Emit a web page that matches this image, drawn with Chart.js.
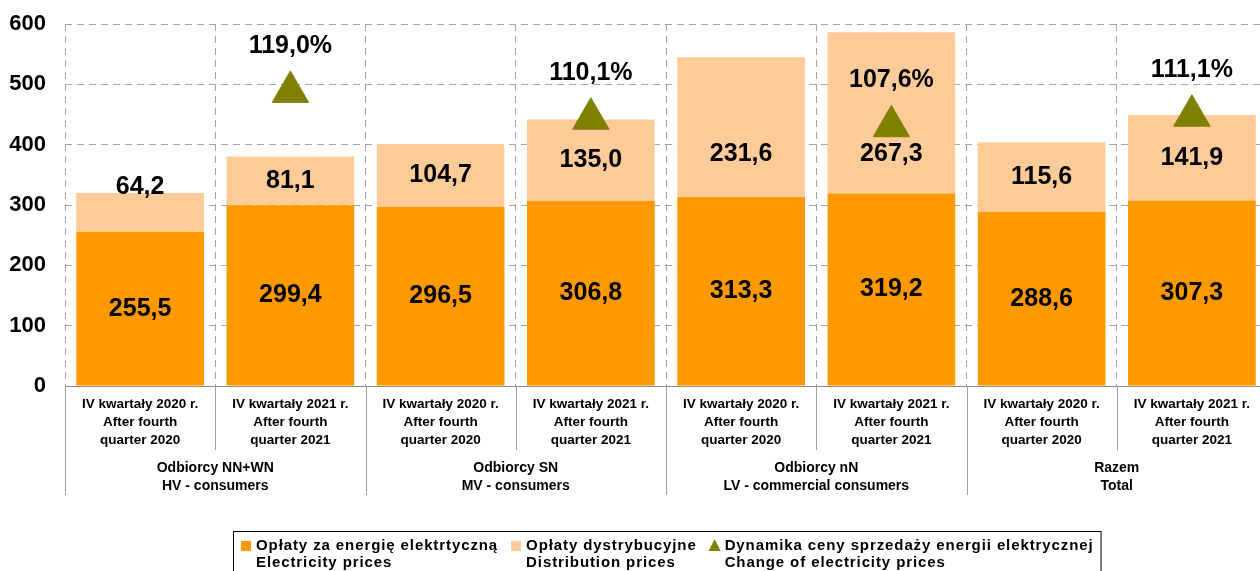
<!DOCTYPE html>
<html>
<head>
<meta charset="utf-8">
<script src="https://cdn.jsdelivr.net/npm/chart.js@4"></script>
<style>
  html, body { margin: 0; padding: 0; background: #fff; }
  #clip { width: 1260px; height: 571px; overflow: hidden; position: relative; }
  /* plot area runs a few px past the right edge, like the original */
  #wrap { width: 1267px; height: 571px; position: absolute; left: 0; top: 0; }
</style>
</head>
<body>
<div id="clip"><div id="wrap"><canvas id="chart"></canvas></div></div>
<script>
const categories = [
  ['IV kwartały 2020 r.', 'After fourth', 'quarter 2020'],
  ['IV kwartały 2021 r.', 'After fourth', 'quarter 2021'],
  ['IV kwartały 2020 r.', 'After fourth', 'quarter 2020'],
  ['IV kwartały 2021 r.', 'After fourth', 'quarter 2021'],
  ['IV kwartały 2020 r.', 'After fourth', 'quarter 2020'],
  ['IV kwartały 2021 r.', 'After fourth', 'quarter 2021'],
  ['IV kwartały 2020 r.', 'After fourth', 'quarter 2020'],
  ['IV kwartały 2021 r.', 'After fourth', 'quarter 2021']
];
const groups = [
  ['Odbiorcy NN+WN', 'HV - consumers'],
  ['Odbiorcy SN', 'MV - consumers'],
  ['Odbiorcy nN', 'LV - commercial consumers'],
  ['Razem', 'Total']
];
const energy       = [255.5, 299.4, 296.5, 306.8, 313.3, 319.2, 288.6, 307.3];
const distribution = [64.2, 81.1, 104.7, 135.0, 231.6, 267.3, 115.6, 141.9];
const dynamics     = [null, 119.0, null, 110.1, null, 107.6, null, 111.1];
const yTicks = [0, 100, 200, 300, 400, 500, 600];
const seriesNames = [
  ['Opłaty za energię elektrtyczną', 'Electricity prices'],
  ['Opłaty dystrybucyjne', 'Distribution prices'],
  ['Dynamika ceny sprzedaży energii elektrycznej', 'Change of electricity prices']
];

const FONT = '"Liberation Sans", Arial, sans-serif';
const ORANGE = '#FF9900', PEACH = '#FFCC99', OLIVE = '#808000';
const fmt = v => v.toFixed(1).replace('.', ',');

Chart.defaults.font.family = FONT;

// numbers on the bars and the % above the triangles
const barLabels = {
  id: 'barLabels',
  afterDatasetsDraw(chart) {
    const ctx = chart.ctx, y = chart.scales.y;
    ctx.save();
    ctx.font = 'bold 25px ' + FONT;
    ctx.fillStyle = '#000';
    ctx.textAlign = 'center';
    ctx.textBaseline = 'middle';
    chart.getDatasetMeta(0).data.forEach((bar, i) => {
      ctx.fillText(fmt(energy[i]), bar.x, (bar.y + bar.base) / 2);
    });
    chart.getDatasetMeta(1).data.forEach((bar, i) => {
      // original keeps these labels in a band between ~330 and ~385
      const mid = energy[i] + distribution[i] / 2;
      const v = Math.min(Math.max(mid, 330), 385);
      ctx.fillText(fmt(distribution[i]), bar.x, y.getPixelForValue(v));
    });
    chart.getDatasetMeta(2).data.forEach((pt, i) => {
      if (dynamics[i] == null) return;
      ctx.fillText(fmt(dynamics[i]) + '%', pt.x, pt.y - 46);
    });
    ctx.restore();
  }
};

// separators + group names under the axis, and the boxed legend
const axisDecor = {
  id: 'axisDecor',
  afterDraw(chart) {
    const ctx = chart.ctx, x = chart.scales.x;
    const base = chart.chartArea.bottom;
    const step = x.getPixelForValue(1) - x.getPixelForValue(0);
    ctx.save();
    ctx.strokeStyle = '#a0a0a0';
    ctx.lineWidth = 1;
    for (let i = 0; i < categories.length; i++) {
      const bx = Math.round(x.getPixelForValue(i) - step / 2) + 0.5;
      ctx.beginPath();
      ctx.moveTo(bx, base);
      ctx.lineTo(bx, i % 2 === 0 ? 495 : 450);
      ctx.stroke();
    }
    ctx.fillStyle = '#000';
    ctx.font = 'bold 14px ' + FONT;
    ctx.textAlign = 'center';
    ctx.textBaseline = 'middle';
    groups.forEach((g, k) => {
      const cx = (x.getPixelForValue(2 * k) + x.getPixelForValue(2 * k + 1)) / 2;
      ctx.fillText(g[0], cx, 468);
      ctx.fillText(g[1], cx, 486);
    });

    // legend
    ctx.textAlign = 'left';
    ctx.font = 'bold 15px ' + FONT;
    ctx.letterSpacing = '0.9px';
    let lx = 241;
    const colors = [ORANGE, PEACH, OLIVE];
    seriesNames.forEach((names, i) => {
      if (i < 2) {
        ctx.fillStyle = colors[i];
        ctx.fillRect(lx, 541, 10, 10);
      } else {
        ctx.fillStyle = OLIVE;
        ctx.beginPath();
        ctx.moveTo(lx + 5, 539);
        ctx.lineTo(lx + 11, 551);
        ctx.lineTo(lx - 1, 551);
        ctx.closePath();
        ctx.fill();
      }
      ctx.fillStyle = '#000';
      const tx = lx + 15;
      ctx.fillText(names[0], tx, 546);
      ctx.fillText(names[1], tx, 563);
      const w = Math.max(ctx.measureText(names[0]).width, ctx.measureText(names[1]).width);
      lx = tx + w + 13;
    });
    ctx.strokeStyle = '#000';
    ctx.strokeRect(233.5, 531.5, lx - 13 + 7 - 233, 60);
    ctx.restore();
  }
};

new Chart(document.getElementById('chart'), {
  type: 'bar',
  data: {
    labels: categories,
    datasets: [
      { label: seriesNames[0].join(' '), data: energy, backgroundColor: ORANGE, yAxisID: 'y', order: 1 },
      { label: seriesNames[1].join(' '), data: distribution, backgroundColor: PEACH, yAxisID: 'y', order: 1 },
      {
        type: 'line', label: seriesNames[2].join(' '), data: dynamics, yAxisID: 'y2',
        showLine: false, pointStyle: 'triangle', pointRadius: 21, pointHoverRadius: 21,
        pointBackgroundColor: OLIVE, pointBorderColor: OLIVE, pointBorderWidth: 1, order: -1
      }
    ]
  },
  options: {
    responsive: true,
    maintainAspectRatio: false,
    animation: false,
    barPercentage: 0.85,
    categoryPercentage: 1.0,
    layout: { autoPadding: false, padding: { top: 24, left: 0, right: 0, bottom: 0 } },
    plugins: { legend: { display: false }, tooltip: { enabled: false } },
    scales: {
      x: {
        stacked: true,
        offset: true,
        grid: { offset: true, color: '#a6a6a6', drawTicks: false },
        border: { display: true, color: '#8c8c8c', width: 1, dash: [7, 5] },
        ticks: {
          color: '#000', autoSkip: false, maxRotation: 0, padding: 9,
          font: { size: 13.5, weight: 'bold', lineHeight: 18 / 13.5 }
        },
        afterFit: s => { s.height = 185; }
      },
      y: {
        stacked: true,
        min: 0, max: 600,
        afterBuildTicks: s => { s.ticks = yTicks.map(v => ({ value: v })); },
        grid: { color: '#a6a6a6', drawTicks: false },
        border: { display: false, dash: [7, 5] },
        ticks: { color: '#000', padding: 19, font: { size: 22, weight: 'bold' } },
        // tick padding would otherwise push the plot top down
        afterFit: s => { s.width = 65; s.paddingTop = 0; s.paddingBottom = 0; }
      },
      y2: { display: false, min: 21.5, max: 141.5 }
    }
  },
  plugins: [barLabels, axisDecor]
});
</script>
</body>
</html>
